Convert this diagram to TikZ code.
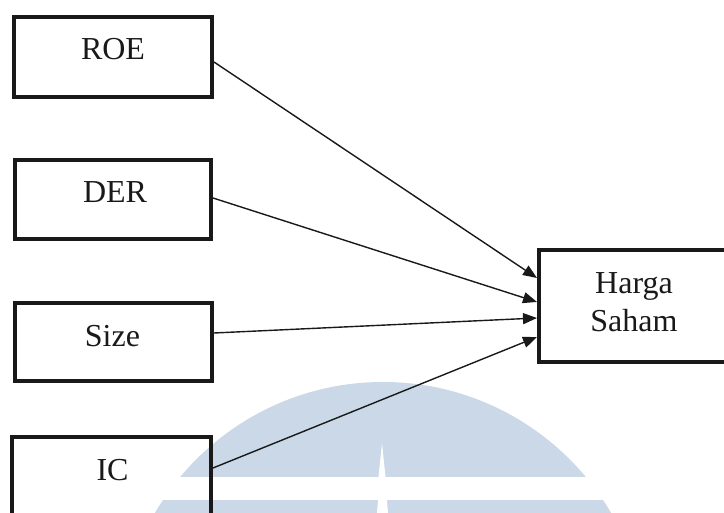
\documentclass[tikz,border=0pt]{standalone}
\usepackage{fontspec}
\setmainfont{Liberation Serif}
\usetikzlibrary{arrows.meta,calc}
\definecolor{wm}{RGB}{202,216,232}
\definecolor{ink}{RGB}{25,25,25}
\begin{document}
\begin{tikzpicture}[x=1pt,y=-1pt,
  box/.style={draw=ink,line width=4pt,inner sep=0pt},
  lbl/.style={font=\fontsize{32}{38}\selectfont,text=ink,anchor=base,inner sep=0pt},
  link/.style={line width=1.4pt,draw=ink,-{Triangle[length=14pt,width=11pt]}}]
\useasboundingbox (0,0) rectangle (724,513);
\begin{scope}
\clip (0,0) rectangle (724,513);
% watermark
\fill[wm] (383,646) circle (264pt);
\fill[white] (0,477) rectangle (724,500);
\fill[white] (382,443) -- (385.5,477) -- (378.5,477) -- cycle;
\fill[white] (378,500) -- (387,500) -- (388,513) -- (377,513) -- cycle;
% boxes
\node[box,minimum width=198pt,minimum height=80pt] (roe) at (113,57) {};
\node[box,minimum width=196pt,minimum height=79pt] (der) at (113,199.5) {};
\node[box,minimum width=197pt,minimum height=78pt] (size) at (113.5,342) {};
\node[box,minimum width=199pt,minimum height=80pt] (ic) at (111.5,477) {};
\node[box,minimum width=191pt,minimum height=112pt] (hs) at (634.5,306) {};
% labels
\node[lbl] (roet) at ($(roe.center)+(0,3)$) {ROE};
\node[lbl] (dert) at ($(der.center)+(2,3.5)$) {DER};
\node[lbl] (sizet) at ($(size.center)+(-1,5)$) {Size};
\node[lbl] (ict) at ($(ic.center)+(1,3)$) {IC};
\node[lbl,align=center] (hst) at ($(hs.center)+(-0.5,26)$) {Harga\\Saham};
% connectors
\draw[link] ($(roe.east)+(0,5)$) -- ($(hs.west)+(0,-28)$);
\draw[link] ($(der.east)+(0,-1.5)$) -- ($(hs.west)+(0,-4)$);
\draw[link] ($(size.east)+(0,-9)$) -- ($(hs.west)+(0,12)$);
\draw[link] ($(ic.east)+(0,-9)$) -- ($(hs.west)+(0,31)$);
\end{scope}
\end{tikzpicture}
\end{document}
